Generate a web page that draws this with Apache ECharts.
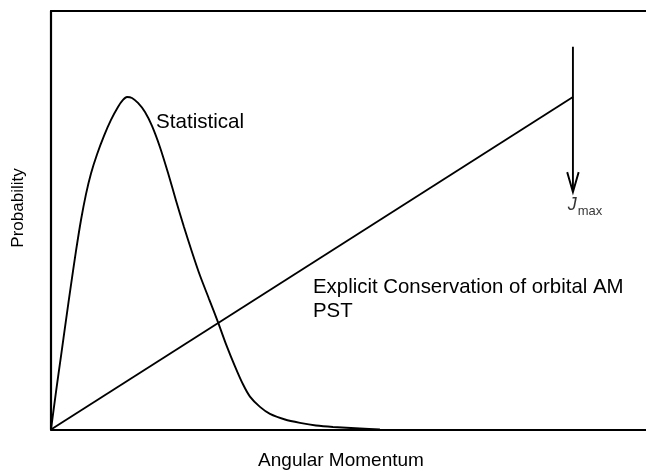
<!DOCTYPE html>
<html>
<head>
<meta charset="utf-8">
<script src="https://cdn.jsdelivr.net/npm/echarts@6/dist/echarts.min.js"></script>
<style>
  html, body { margin: 0; padding: 0; background: #fff; }
  #chart { width: 646px; height: 472px; }
</style>
</head>
<body>
<div id="chart"></div>
<script>
// Statistical angular-momentum distribution (J in units where Jmax = 100, peak normalised to 1)
const statJ = [
  0, 0.958, 1.916, 2.874, 3.831, 4.789, 5.747, 6.705, 7.663, 8.812,
  10.153, 11.494, 12.835, 13.793, 14.559, 15.517, 16.667, 18.008, 19.349, 20.881,
  22.414, 23.946, 25.479, 27.011, 28.544, 30.268, 31.992, 33.525, 35.249, 36.782,
  38.123, 40.038, 41.954, 44.828, 47.701, 50.766, 54.023, 59.195, 63.027
];
const statProb = [
  0, 0.113, 0.221, 0.329, 0.435, 0.537, 0.630, 0.708, 0.770, 0.827,
  0.883, 0.931, 0.970, 0.991, 1.000, 0.997, 0.982, 0.955, 0.913, 0.849,
  0.772, 0.689, 0.609, 0.534, 0.463, 0.393, 0.323, 0.257, 0.190, 0.136,
  0.099, 0.068, 0.047, 0.030, 0.020, 0.012, 0.0075, 0.003, 0
];

// PST with explicit conservation of orbital AM: linear up to Jmax
const pstJ    = [0, 100];
const pstProb = [0, 1];

// Jmax marker arrow
const jMax = 100;
const arrowTop = 1.151;
const arrowTip = 0.714;
const arrowWing = 0.774;
const arrowHalfWidth = 1.1;

// axis extents
const xMax = 114;
const yMax = 1.2586;

const FONT = "'Liberation Sans', Arial, Helvetica, sans-serif";
const INK = '#000';

const chart = echarts.init(document.getElementById('chart'), null, { renderer: 'canvas' });

const zip = (a, b) => a.map((v, i) => [v, b[i]]);

const hiddenAxisParts = {
  axisTick: { show: false },
  axisLabel: { show: false },
  splitLine: { show: false }
};
const frameLine = { show: true, onZero: false, lineStyle: { color: INK, width: 2.2 } };

chart.setOption({
  animation: false,
  backgroundColor: '#fff',
  grid: { left: 51, right: 0, top: 11, bottom: 42.5, containLabel: false },
  xAxis: [
    Object.assign({ type: 'value', min: 0, max: xMax, position: 'bottom', axisLine: frameLine }, hiddenAxisParts),
    Object.assign({ type: 'value', min: 0, max: xMax, position: 'top', axisLine: frameLine }, hiddenAxisParts)
  ],
  yAxis: Object.assign({ type: 'value', min: 0, max: yMax, axisLine: frameLine }, hiddenAxisParts),
  series: [
    {
      name: 'Statistical',
      type: 'line',
      data: zip(statJ, statProb),
      smooth: 0.25,
      symbol: 'none',
      lineStyle: { color: INK, width: 1.9 }
    },
    {
      name: 'PST',
      type: 'line',
      data: zip(pstJ, pstProb),
      symbol: 'none',
      lineStyle: { color: INK, width: 1.9 }
    },
    {
      name: 'Jmax shaft',
      type: 'line',
      data: [[jMax, arrowTop], [jMax, arrowTip]],
      symbol: 'none',
      lineStyle: { color: INK, width: 1.9 }
    },
    {
      name: 'Jmax head',
      type: 'line',
      data: [[jMax - arrowHalfWidth, arrowWing], [jMax, arrowTip], [jMax + arrowHalfWidth, arrowWing]],
      symbol: 'none',
      lineStyle: { color: INK, width: 1.9, join: 'miter' }
    },
    {
      name: 'Jmax label',
      type: 'scatter',
      data: [[jMax, arrowTip]],
      symbolSize: 1,
      itemStyle: { color: 'rgba(0,0,0,0)' },
      label: {
        show: true,
        position: 'bottom',
        distance: 3,
        offset: [12, 0],
        formatter: '{j|J}{m|max}',
        rich: {
          j: { fontFamily: FONT, fontSize: 18, fontStyle: 'italic', color: INK, lineHeight: 22, verticalAlign: 'top' },
          m: { fontFamily: FONT, fontSize: 13, color: INK, lineHeight: 22, verticalAlign: 'bottom', padding: [9, 0, 0, 1] }
        }
      }
    }
  ],
  graphic: [
    { type: 'text', left: 156, top: 112,
      style: { text: 'Statistical', font: '20.6px ' + FONT, fill: INK } },
    { type: 'text', left: 313, top: 275,
      style: { text: 'Explicit Conservation of orbital AM\nPST', font: '20.4px ' + FONT, fill: INK, lineHeight: 24 } },
    { type: 'text', x: 18.5, y: 208, rotation: Math.PI / 2,
      style: { text: 'Probability', font: '17px ' + FONT, fill: INK, align: 'center', verticalAlign: 'middle' } },
    { type: 'text', x: 341, y: 461,
      style: { text: 'Angular Momentum', font: '19px ' + FONT, fill: INK, align: 'center', verticalAlign: 'middle' } }
  ]
});
</script>
</body>
</html>
